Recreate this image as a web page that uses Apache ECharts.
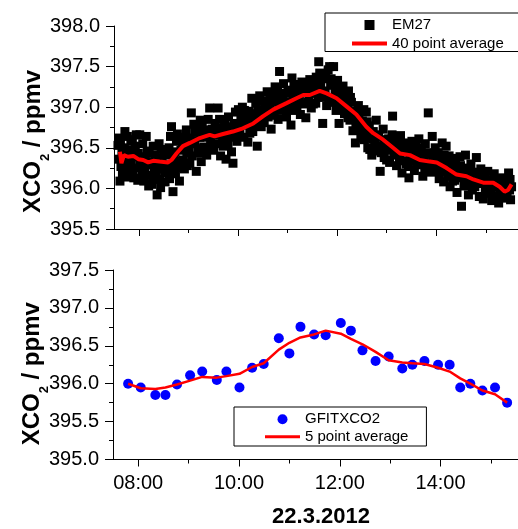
<!DOCTYPE html>
<html><head><meta charset="utf-8">
<script src="https://cdn.jsdelivr.net/npm/echarts@6/dist/echarts.min.js"></script>
<style>html,body{margin:0;padding:0;background:#fff}#c{width:518px;height:529px}</style>
</head><body><div id="c"></div>
<script>
// time in decimal hours, XCO2 in ppmv
const em27 = [
[7.58,396.53],[7.60,396.62],[7.62,396.09],[7.64,396.27],[7.66,396.45],[7.69,396.38],[7.72,396.70],[7.74,396.22],[7.77,396.64],[7.79,396.14],[7.82,396.47],[7.85,396.31],[7.87,396.58],[7.90,396.13],[7.93,396.52],[7.96,396.25],[7.99,396.43],
[8.02,396.66],[8.05,396.39],[8.07,396.19],[8.10,396.09],[8.13,396.35],[8.15,396.64],[8.18,396.29],[8.21,396.44],[8.23,396.16],[8.26,396.05],[8.29,396.52],[8.31,396.27],[8.34,396.18],[8.37,395.92],[8.40,396.37],[8.42,396.11],[8.45,396.48],[8.48,396.24],
[8.51,396.45],[8.53,396.08],[8.56,396.29],[8.59,396.22],[8.61,396.50],[8.64,396.64],[8.66,396.76],[8.69,395.96],[8.71,396.37],[8.74,396.18],[8.76,396.58],[8.79,396.26],[8.82,396.09],[8.85,396.47],[8.87,396.63],[8.90,396.35],[8.93,396.55],[8.96,396.72],[8.98,396.28],
[9.01,396.48],[9.04,396.62],[9.06,396.93],[9.08,396.40],[9.11,396.79],[9.13,396.55],[9.16,396.21],[9.18,396.70],[9.21,396.44],[9.23,396.63],[9.26,396.33],[9.28,396.77],[9.31,396.51],[9.34,396.68],[9.37,396.41],[9.40,396.85],[9.43,396.99],[9.45,396.60],[9.48,396.73],
[9.51,396.47],[9.54,396.80],[9.57,396.55],[9.60,396.99],[9.62,396.66],[9.65,396.40],[9.67,396.74],[9.70,396.52],[9.73,396.82],[9.76,396.36],[9.78,396.61],[9.81,396.88],[9.84,396.69],[9.87,396.45],[9.90,396.31],[9.92,396.78],[9.95,396.94],[9.98,396.58],
[10.01,396.97],[10.04,396.72],[10.06,396.86],[10.09,397.00],[10.12,396.63],[10.14,396.90],[10.17,396.78],[10.20,396.57],[10.22,396.95],[10.25,396.83],[10.28,397.11],[10.30,396.70],[10.33,396.92],[10.36,397.05],[10.39,396.52],[10.41,396.87],[10.44,397.14],[10.47,396.76],
[10.50,397.08],[10.53,396.81],[10.56,396.96],[10.59,397.19],[10.61,396.88],[10.64,397.02],[10.67,396.73],[10.70,397.16],[10.73,396.93],[10.75,397.25],[10.78,397.06],[10.81,396.85],[10.84,397.44],[10.87,397.12],[10.89,396.97],[10.92,397.29],[10.95,397.03],[10.98,396.88],
[11.01,397.21],[11.04,397.06],[11.07,396.78],[11.09,397.36],[11.12,397.14],[11.15,396.96],[11.18,397.28],[11.20,397.09],[11.23,397.22],[11.26,396.91],[11.29,397.31],[11.31,397.04],[11.34,397.19],[11.37,396.87],[11.40,397.26],[11.43,397.11],[11.45,397.34],[11.48,396.99],
[11.51,397.17],[11.54,397.30],[11.57,397.05],[11.60,397.24],[11.63,397.56],[11.65,397.42],[11.68,397.13],[11.71,396.80],[11.73,397.35],[11.76,397.20],[11.79,397.02],[11.82,397.46],[11.85,397.50],[11.87,397.27],[11.90,397.10],[11.93,397.50],[11.96,397.22],[11.98,396.96],
[12.01,397.33],[12.04,396.80],[12.07,397.16],[12.10,397.04],[12.12,397.26],[12.15,396.92],[12.18,397.12],[12.21,396.97],[12.23,397.20],[12.26,396.84],[12.29,397.06],[12.32,396.71],[12.34,396.95],[12.37,396.56],[12.40,396.88],[12.43,397.02],[12.45,396.75],[12.48,396.62],
[12.51,396.83],[12.54,396.97],[12.56,396.69],[12.59,396.94],[12.62,396.50],[12.65,396.77],[12.67,396.62],[12.70,396.41],[12.73,396.70],[12.76,396.55],[12.79,396.84],[12.81,396.46],[12.84,396.64],[12.87,396.21],[12.90,396.52],[12.93,396.73],[12.95,396.38],[12.98,396.58],
[13.01,396.47],[13.04,396.61],[13.06,396.32],[13.09,396.55],[13.12,396.89],[13.15,396.42],[13.17,396.60],[13.20,396.28],[13.23,396.50],[13.26,396.37],[13.28,396.65],[13.31,396.19],[13.34,396.45],[13.37,396.56],[13.39,396.30],[13.42,396.49],[13.45,396.13],[13.48,396.40],
[13.51,396.58],[13.54,396.34],[13.56,396.22],[13.59,396.52],[13.62,396.40],[13.65,396.61],[13.67,396.29],[13.70,396.46],[13.73,396.15],[13.76,396.38],[13.78,396.55],[13.81,396.26],[13.84,396.93],[13.87,396.42],[13.90,396.20],[13.92,396.64],[13.95,396.33],[13.98,396.50],
[14.01,396.27],[14.04,396.44],[14.06,396.12],[14.09,396.35],[14.12,396.56],[14.15,396.08],[14.17,396.29],[14.20,396.52],[14.23,396.18],[14.26,396.40],[14.28,396.02],[14.31,396.24],[14.34,396.37],[14.37,396.10],[14.39,396.30],[14.42,395.95],[14.45,396.21],[14.48,396.39],
[14.51,395.78],[14.54,396.14],[14.56,396.03],[14.59,396.41],[14.62,396.20],[14.65,395.92],[14.67,396.09],[14.70,396.30],[14.73,395.98],[14.76,396.17],[14.78,396.02],[14.81,396.38],[14.84,396.12],[14.87,395.90],[14.90,396.24],[14.92,396.06],[14.95,395.87],[14.98,396.15],
[15.01,396.00],[15.04,396.21],[15.06,395.94],[15.09,396.10],[15.12,395.85],[15.15,396.04],[15.17,396.18],[15.20,395.90],[15.23,396.08],[15.26,395.82],[15.28,396.01],[15.31,395.96],[15.34,396.13],[15.37,395.88],[15.40,396.05],[15.43,395.93],[15.46,396.19],[15.48,395.98],[15.50,395.86],[15.52,396.02],
[7.59,396.36],[7.63,396.56],[7.67,396.19],[7.71,396.50],[7.75,396.41],[7.80,396.29],[7.84,396.60],[7.88,396.20],[7.91,396.39],[7.95,396.66],[7.98,396.10],
[8.03,396.30],[8.08,396.55],[8.12,396.23],[8.17,396.46],[8.20,396.03],[8.25,396.33],[8.28,396.14],[8.33,396.41],[8.36,396.25],[8.41,396.55],[8.44,396.01],[8.47,396.33],[8.52,396.19],[8.57,396.41],[8.62,396.12],[8.68,396.28],[8.73,396.45],[8.78,396.67],[8.83,396.34],[8.88,396.52],[8.92,396.24],[8.97,396.44],
[9.03,396.31],[9.09,396.58],[9.14,396.69],[9.19,396.49],[9.24,396.84],[9.30,396.63],[9.35,396.50],[9.41,396.72],[9.46,396.53],[9.52,396.66],[9.58,396.71],[9.63,396.85],[9.69,396.62],[9.74,396.69],[9.80,396.53],[9.85,396.76],[9.91,396.63],[9.97,396.80],
[10.03,396.66],[10.08,396.79],[10.13,396.96],[10.18,396.86],[10.24,396.68],[10.29,396.88],[10.35,396.79],[10.40,396.97],[10.45,396.91],[10.49,396.82],[10.54,397.05],[10.60,396.93],[10.65,397.12],[10.69,396.90],[10.74,397.08],[10.80,397.20],[10.85,396.96],[10.90,397.09],[10.96,397.17],
[11.02,396.98],[11.08,397.18],[11.13,397.27],[11.19,397.02],[11.24,397.13],[11.30,397.20],[11.35,397.30],[11.41,397.06],[11.46,397.22],[11.52,397.04],[11.58,397.37],[11.62,397.12],[11.67,397.29],[11.72,397.18],[11.77,397.38],[11.83,397.12],[11.88,397.35],[11.94,397.06],[11.99,397.14],
[12.05,397.24],[12.11,396.99],[12.16,397.06],[12.22,396.87],[12.27,397.12],[12.33,396.90],[12.38,396.78],[12.44,396.93],[12.49,396.72],[12.55,396.60],[12.61,396.82],[12.66,396.48],[12.72,396.61],[12.78,396.66],[12.83,396.52],[12.89,396.44],[12.94,396.60],
[13.00,396.35],[13.05,396.48],[13.11,396.66],[13.16,396.52],[13.22,396.41],[13.27,396.55],[13.33,396.34],[13.38,396.46],[13.44,396.27],[13.49,396.52],[13.55,396.44],[13.61,396.31],[13.66,396.50],[13.72,396.36],[13.77,396.22],[13.83,396.44],[13.88,396.30],[13.94,396.41],[13.99,396.21],
[14.05,396.33],[14.10,396.21],[14.16,396.41],[14.22,396.30],[14.27,396.15],[14.33,396.09],[14.38,396.26],[14.44,396.13],[14.49,396.28],[14.55,396.25],[14.60,396.08],[14.66,396.22],[14.71,396.11],[14.77,396.05],[14.83,396.20],[14.88,396.08],[14.94,396.15],[14.99,395.96],
[15.05,396.10],[15.11,395.97],[15.16,396.11],[15.22,396.02],[15.27,396.12],[15.33,395.91],[15.38,396.08],[15.44,395.99],[15.49,396.11]
];
const em27Avg = [
[7.62,396.45],[7.65,396.31],[7.70,396.41],[7.78,396.39],[7.89,396.40],[7.99,396.36],[8.09,396.35],[8.19,396.32],[8.29,396.34],[8.42,396.33],[8.59,396.32],[8.66,396.35],[8.76,396.43],[8.89,396.52],[9.03,396.56],[9.23,396.62],[9.43,396.66],[9.53,396.64],[9.70,396.67],[9.90,396.70],
[10.10,396.74],[10.31,396.80],[10.51,396.89],[10.71,396.97],[10.98,397.05],[11.18,397.11],[11.32,397.15],[11.45,397.15],[11.65,397.20],[11.79,397.17],[11.99,397.11],[12.19,397.01],[12.39,396.91],[12.59,396.76],[12.73,396.68],[12.93,396.60],[13.13,396.50],[13.27,396.43],[13.47,396.41],[13.67,396.35],
[13.87,396.33],[14.01,396.32],[14.21,396.25],[14.41,396.17],[14.61,396.15],[14.75,396.11],[14.95,396.07],[15.15,396.07],[15.28,396.02],[15.38,395.96],[15.45,395.98],[15.52,396.05]
];
const gfitTime = [7.80,8.05,8.34,8.54,8.77,9.03,9.27,9.56,9.75,10.01,10.26,10.49,10.79,11.00,11.22,11.49,11.72,12.02,12.22,12.45,12.71,12.97,13.24,13.44,13.68,13.95,14.18,14.39,14.59,14.83,15.08,15.32];
const gfitXco2 = [396.00,395.95,395.85,395.85,395.99,396.11,396.16,396.05,396.16,395.95,396.21,396.26,396.60,396.40,396.75,396.65,396.64,396.80,396.70,396.44,396.30,396.36,396.20,396.25,396.30,396.25,396.25,395.95,396.00,395.91,395.95,395.75];
const gfitAvgXco2 = [396.00,395.94,395.93,395.95,395.99,396.04,396.09,396.08,396.10,396.13,396.22,396.27,396.45,396.54,396.61,396.65,396.70,396.66,396.59,396.52,396.42,396.31,396.28,396.27,396.26,396.21,396.16,396.07,396.00,395.91,395.86,395.75];
const majorHours = [8, 10, 12, 14];
const minorHours = [9, 11, 13, 15];
const legendTop = ['EM27', '40 point average'];
const legendBottom = ['GFITXCO2', '5 point average'];
const dateLabel = '22.3.2012';

const FONT = "'Liberation Sans', Arial, sans-serif";
const pad2 = n => (n < 10 ? '0' : '') + n;
const hourLabel = v => pad2(Math.round(v)) + ':00';

function yAxisCfg(gridIndex, min, max, titlePad) {
  return {
    type: 'value', gridIndex, min, max, interval: 0.5, position: 'left',
    axisLine: { show: true, lineStyle: { color: '#000', width: 1 } },
    axisTick: { show: true, length: 8, lineStyle: { color: '#000' } },
    minorTick: { show: true, splitNumber: 2, length: 4, lineStyle: { color: '#000' } },
    splitLine: { show: false }, minorSplitLine: { show: false },
    axisLabel: { fontFamily: FONT, fontSize: 20, color: '#000', margin: 14, formatter: v => v.toFixed(1) },
    name: '{t|XCO}{s|2}{t| / ppmv}', nameLocation: 'middle', nameRotate: 90, nameGap: 62,
    nameMoveOverlap: false,
    nameTextStyle: {
      padding: [0, titlePad, 0, 0],
      rich: {
        t: { fontFamily: FONT, fontSize: 24, fontWeight: 'bold', color: '#000' },
        s: { fontFamily: FONT, fontSize: 13, fontWeight: 'bold', color: '#000', padding: [24, 0, 0, 0] }
      }
    }
  };
}
function xMajor(gridIndex, max, showLabel) {
  return {
    type: 'value', gridIndex, min: 7.5, max, position: 'bottom',
    axisLine: { show: true, onZero: false, lineStyle: { color: '#000', width: 1 } },
    axisTick: { show: true, length: 7, customValues: majorHours, lineStyle: { color: '#000' } },
    axisLabel: { show: showLabel, customValues: majorHours, formatter: hourLabel, fontFamily: FONT, fontSize: 20, color: '#000', margin: 14 },
    splitLine: { show: false },
    name: showLabel ? dateLabel : '', nameLocation: 'middle', nameGap: 46, nameMoveOverlap: false,
    nameTextStyle: { fontFamily: FONT, fontSize: 22, fontWeight: 'bold', color: '#000', padding: [0, 0, 0, 11] }
  };
}
function xMinor(gridIndex, max) {
  return {
    type: 'value', gridIndex, min: 7.5, max, position: 'bottom',
    axisLine: { show: false, onZero: false },
    axisTick: { show: true, length: 4, customValues: minorHours, lineStyle: { color: '#000' } },
    axisLabel: { show: false }, splitLine: { show: false }
  };
}

const chart = echarts.init(document.getElementById('c'), null, { renderer: 'canvas' });
chart.setOption({
  animation: false,
  backgroundColor: '#fff',
  grid: [
    { left: 114, top: 26, width: 404, height: 203 },
    { left: 113, top: 270, width: 405, height: 189.5 }
  ],
  xAxis: [xMajor(0, 15.65, false), xMinor(0, 15.65), xMajor(1, 15.536, true), xMinor(1, 15.536)],
  yAxis: [yAxisCfg(0, 395.5, 398.0, 28), yAxisCfg(1, 395.0, 397.5, 18)],
  legend: [
    {
      data: [{ name: legendTop[0], icon: 'path://M0,0L10,0L10,10L0,10Z' }, { name: legendTop[1], icon: 'path://M0,0L35,0L35,4L0,4Z' }],
      orient: 'vertical', left: 325, top: 13, itemWidth: 35, itemHeight: 10, itemGap: 2.5,
      padding: [4, 45, 0, 27], borderColor: '#000', borderWidth: 1, selectedMode: false,
      textStyle: { fontFamily: FONT, fontSize: 15, color: '#000', lineHeight: 16 }
    },
    {
      data: [{ name: legendBottom[0], icon: 'circle' }, { name: legendBottom[1], icon: 'path://M0,0L35,0L35,3L0,3Z' }],
      orient: 'vertical', left: 234, top: 407, itemWidth: 35, itemHeight: 10, itemGap: 1.4,
      padding: [4.3, 18, 1.3, 31], borderColor: '#000', borderWidth: 1, selectedMode: false,
      textStyle: { fontFamily: FONT, fontSize: 15, color: '#000', lineHeight: 16 }
    }
  ],
  series: [
    { name: legendTop[0], type: 'scatter', xAxisIndex: 0, yAxisIndex: 0, data: em27,
      symbol: 'rect', symbolSize: 9, itemStyle: { color: '#000', opacity: 1 }, z: 2 },
    { name: legendTop[1], type: 'line', xAxisIndex: 0, yAxisIndex: 0, data: em27Avg,
      symbol: 'none', showSymbol: false, lineStyle: { color: '#ff0000', width: 4 }, itemStyle: { color: '#ff0000' }, z: 3 },
    { name: legendBottom[0], type: 'scatter', xAxisIndex: 2, yAxisIndex: 1,
      data: gfitTime.map((t, i) => [t, gfitXco2[i]]),
      symbol: 'circle', symbolSize: 10, itemStyle: { color: '#0000ff', opacity: 1 }, z: 2 },
    { name: legendBottom[1], type: 'line', xAxisIndex: 2, yAxisIndex: 1,
      data: gfitTime.map((t, i) => [t, gfitAvgXco2[i]]),
      symbol: 'none', showSymbol: false, lineStyle: { color: '#ff0000', width: 2.5 }, itemStyle: { color: '#ff0000' }, z: 3 }
  ]
});
</script></body></html>
